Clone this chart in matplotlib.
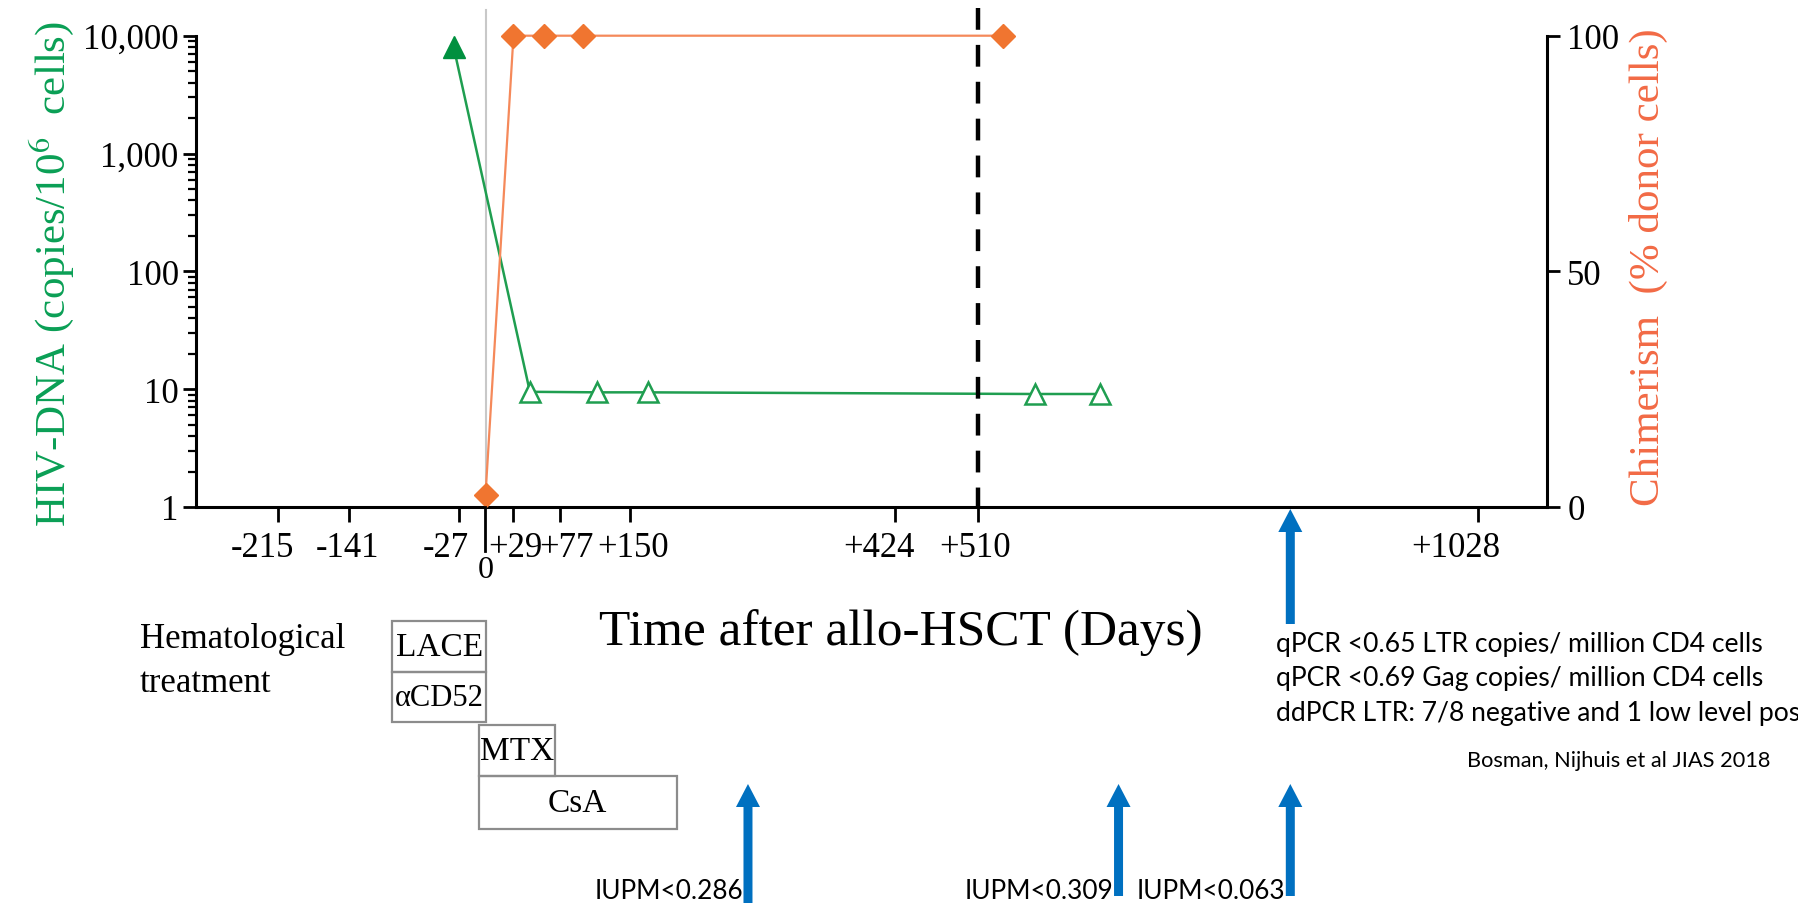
import matplotlib
matplotlib.use("Agg")
import matplotlib.pyplot as plt
import matplotlib.transforms as mtransforms
from matplotlib.patches import Rectangle, Polygon
from matplotlib.ticker import FuncFormatter, LogLocator, NullFormatter

W, H = 1799, 904

# ---- data ----
hiv_days = [-33, 46, 116, 168, 569, 637]
hiv_copies = [8000, 9.5, 9.4, 9.4, 9.1, 9.1]
hiv_detected = [True, False, False, False, False, False]

chim_days = [0, 29, 61, 101, 536]
chim_donor = [2.5, 100, 100, 100, 100]

tick_days = [-215, -141, -27, 29, 77, 150, 424, 510, 1028]
tick_labels = ["-215", "-141", "-27", "+29", "+77", "+150", "+424", "+510", "+1028"]
stop_day = 510

treatments = ["LACE", "αCD52", "MTX", "CsA"]
treat_start = [-97, -97, -7, -7]
treat_end = [1, 1, 72, 198]

iupm_days = [272, 656, 834]
iupm_labels = ["IUPM<0.286", "IUPM<0.309", "IUPM<0.063"]
pcr_day = 834
pcr_lines = [
    "qPCR <0.65 LTR copies/ million CD4 cells",
    "qPCR <0.69 Gag copies/ million CD4 cells",
    "ddPCR LTR: 7/8 negative and 1 low level pos",
]
citation = "Bosman, Nijhuis et al JIAS 2018"

# horizontal nudges (px) of the x tick labels, as placed in the original
label_shift = [-16, -2, -14, 2, 7, 3, -16, -3, -22]

GREEN = "#1f9e50"
GREEN_DARK = "#00903f"
ORANGE_LINE = "#f5895a"
ORANGE = "#f07530"
RED_LABEL = "#f26a45"
BLUE = "#0070c0"

plt.rcParams["font.family"] = ["Liberation Serif", "DejaVu Serif"]
plt.rcParams["mathtext.fontset"] = "stix"


def fx(x):
    return x / W


def fy(y):
    return 1 - y / H


fig = plt.figure(figsize=(W / 100, H / 100), dpi=100)
ax = fig.add_axes([fx(196), fy(508), (1547 - 196) / W, (508 - 36.7) / H])
ax2 = ax.twinx()

ax.set_xlim(-300, 1100)
ax.set_yscale("log")
ax.set_ylim(1, 10000)
ax2.set_ylim(0, 100)

for a in (ax, ax2):
    a.spines["top"].set_visible(False)
    a.patch.set_visible(False)
ax.spines["right"].set_visible(False)
ax2.spines["left"].set_visible(False)
ax2.spines["bottom"].set_visible(False)
for s in ("left", "bottom"):
    ax.spines[s].set_linewidth(2.2)
ax2.spines["right"].set_linewidth(2.2)

# left axis
ax.yaxis.set_major_locator(LogLocator(base=10, numticks=10))
ax.yaxis.set_minor_locator(LogLocator(base=10, subs=tuple(range(2, 10)), numticks=100))
ax.yaxis.set_minor_formatter(NullFormatter())
ax.yaxis.set_major_formatter(FuncFormatter(lambda v, _: f"{v:,.0f}"))
ax.tick_params(axis="y", which="major", direction="out", length=9.5, width=2.0,
               labelsize=25, pad=3)
ax.tick_params(axis="y", which="minor", direction="out", length=6, width=1.6)

ax.set_xticks(tick_days, tick_labels)
ax.tick_params(axis="x", direction="out", length=11, width=2.0, labelsize=25, pad=6)
for lab, dx in zip(ax.get_xticklabels(), label_shift):
    lab.set_transform(lab.get_transform()
                      + mtransforms.ScaledTranslation(dx / 100, 0, fig.dpi_scale_trans))

ax2.set_yticks([0, 50, 100])
ax2.tick_params(axis="y", direction="out", length=9.5, width=2.0, labelsize=25, pad=5)

# zero reference line and long zero tick
ax.plot([0, 0], [1, 10 ** 4.22], color="#c8c8c8", lw=1.5, zorder=0, clip_on=False)
x0_px = ax.transData.transform((0, 1))[0]
fig.add_artist(plt.Line2D([x0_px / W, x0_px / W], [fy(508), fy(552)],
                          color="black", lw=2.0, transform=fig.transFigure))
fig.text(x0_px / W, fy(556), "0", fontsize=23, ha="center", va="top")

# HIV-DNA series
ax.plot(hiv_days, hiv_copies, color=GREEN, lw=1.8, zorder=3, clip_on=False)
for d, c, det in zip(hiv_days, hiv_copies, hiv_detected):
    if det:
        ax.plot(d, c, marker="^", ms=16, color=GREEN_DARK, zorder=4, clip_on=False)
    else:
        ax.plot(d, c, marker="^", ms=14, mfc="white", mec=GREEN, mew=1.8,
                zorder=4, clip_on=False)

# chimerism series
ax2.plot(chim_days, chim_donor, color=ORANGE_LINE, lw=1.6, zorder=3, clip_on=False)
ax2.plot(chim_days, chim_donor, ls="none", marker="D", ms=12.5, color=ORANGE,
         zorder=4, clip_on=False)

# treatment interruption line
ax2.plot([stop_day, stop_day], [105.9, 0], color="black", lw=3.2,
         dashes=(4.9, 3.4), zorder=5, clip_on=False)

# axis titles
fig.text(fx(52), fy(274), "HIV-DNA (copies/10$^6$  cells)", color="#0a9f55",
         fontsize=31, rotation=90, ha="center", va="center")
fig.text(fx(1648), fy(267), "Chimerism  (% donor cells)", color=RED_LABEL,
         fontsize=31, rotation=90, ha="center", va="center")
fig.text(fx(901), fy(645), "Time after allo-HSCT (Days)", fontsize=37,
         ha="center", va="baseline")

# hematological treatment boxes
fig.text(fx(140), fy(648), "Hematological", fontsize=25, ha="left", va="baseline")
fig.text(fx(140), fy(692), "treatment", fontsize=25, ha="left", va="baseline")
row_top = [622, 673, 726, 777]
row_bot = [673, 723, 777, 830]
for name, s, e, t, b in zip(treatments, treat_start, treat_end, row_top, row_bot):
    x_s = ax.transData.transform((s, 1))[0]
    x_e = ax.transData.transform((e, 1))[0]
    fig.add_artist(Rectangle((fx(x_s), fy(b)), (x_e - x_s) / W, (b - t) / H,
                             transform=fig.transFigure, fill=False,
                             edgecolor="#8c8c8c", lw=1.6))
    fig.text(fx((x_s + x_e) / 2), fy((t + b) / 2), name,
             fontsize=22 if name == "αCD52" else 24, ha="center", va="center")


def up_arrow(x, y_tip, y_bot):
    shaft, head, hl = 4.5, 12, 23
    pts = [(x - shaft, y_bot), (x - shaft, y_tip + hl), (x - head, y_tip + hl),
           (x, y_tip), (x + head, y_tip + hl), (x + shaft, y_tip + hl),
           (x + shaft, y_bot)]
    fig.add_artist(Polygon([(fx(px), fy(py)) for px, py in pts], closed=True,
                           transform=fig.transFigure, color=BLUE, lw=0))


renderer = fig.canvas.get_renderer()


def fit_width(txt, width_px):
    bb = txt.get_window_extent(renderer)
    txt.set_fontsize(txt.get_fontsize() * width_px / bb.width)


SANS = ["Lato", "DejaVu Sans"]
arrow_bottoms = [904, 897, 897]
for d, lab, yb in zip(iupm_days, iupm_labels, arrow_bottoms):
    xa = ax.transData.transform((d, 1))[0]
    up_arrow(xa, 785, yb)
    t = fig.text(fx(xa - 5), fy(899), lab, family=SANS, fontsize=20,
                 ha="right", va="baseline")
    fit_width(t, 149)

xp = ax.transData.transform((pcr_day, 1))[0]
up_arrow(xp, 510, 625)
baselines = [652, 686, 721]
line_texts = []
for line, yb in zip(pcr_lines, baselines):
    line_texts.append(fig.text(fx(xp - 14), fy(yb), line, family=SANS, fontsize=20,
                               ha="left", va="baseline"))
fit_width(line_texts[0], 487)
for t in line_texts[1:]:
    t.set_fontsize(line_texts[0].get_fontsize())
c = fig.text(fx(1770), fy(767), citation, family=SANS, fontsize=15,
             ha="right", va="baseline")
fit_width(c, 303)

fig.savefig("out.png", dpi=100)
